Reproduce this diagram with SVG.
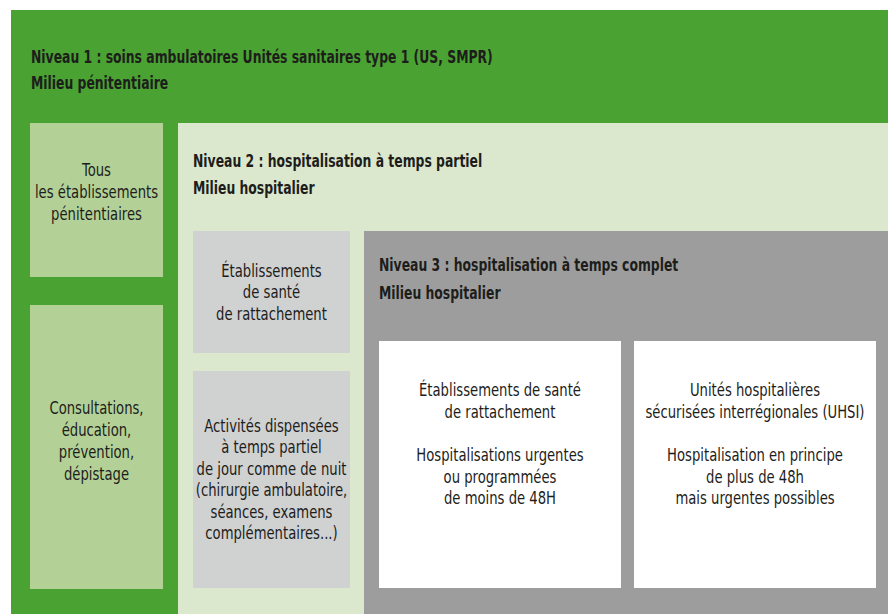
<svg xmlns="http://www.w3.org/2000/svg" width="888" height="614" viewBox="0 0 888 614">
<style>
text{font-family:"DejaVu Sans Condensed","Liberation Sans Narrow","Liberation Sans",sans-serif;font-stretch:condensed;fill:#1d1d1b}
.h{font-size:17px;font-weight:bold}
.b{font-size:18px;text-anchor:middle}
</style>
<rect width="888" height="614" fill="#ffffff"/>
<g id="niveau1">
<rect x="11" y="10" width="877" height="604" fill="#4aa232"/>
<g transform="translate(31 0) scale(0.81 1)">
<text class="h" x="0" y="63">Niveau 1 : soins ambulatoires Unités sanitaires type 1 (US, SMPR)</text>
<text class="h" x="0" y="89">Milieu pénitentiaire</text>
</g>
</g>
<g id="tous-etablissements">
<rect x="30" y="123" width="133" height="154" fill="#b3d197"/>
<g transform="translate(96.5 0) scale(0.815 1)">
<text class="b" x="0" y="176">Tous</text>
<text class="b" x="0" y="198">les établissements</text>
<text class="b" x="0" y="220">pénitentiaires</text>
</g>
</g>
<g id="consultations">
<rect x="30" y="305" width="133" height="284" fill="#b3d197"/>
<g transform="translate(96.5 0) scale(0.815 1)">
<text class="b" x="0" y="414">Consultations,</text>
<text class="b" x="0" y="436">éducation,</text>
<text class="b" x="0" y="458">prévention,</text>
<text class="b" x="0" y="480">dépistage</text>
</g>
</g>
<g id="niveau2">
<rect x="178" y="123" width="710" height="491" fill="#dce8cd"/>
<g transform="translate(193 0) scale(0.81 1)">
<text class="h" x="0" y="167">Niveau 2 : hospitalisation à temps partiel</text>
<text class="h" x="0" y="194">Milieu hospitalier</text>
</g>
</g>
<g id="etablissements-rattachement">
<rect x="193" y="231" width="157" height="122" fill="#d0d1d1"/>
<g transform="translate(271.5 0) scale(0.815 1)">
<text class="b" x="0" y="277">Établissements</text>
<text class="b" x="0" y="298.5">de santé</text>
<text class="b" x="0" y="320">de rattachement</text>
</g>
</g>
<g id="activites">
<rect x="193" y="371" width="157" height="217" fill="#d0d1d1"/>
<g transform="translate(271.5 0) scale(0.815 1)">
<text class="b" x="0" y="432">Activités dispensées</text>
<text class="b" x="0" y="453.5">à temps partiel</text>
<text class="b" x="0" y="475">de jour comme de nuit</text>
<text class="b" x="0" y="496.5">(chirurgie ambulatoire,</text>
<text class="b" x="0" y="518">séances, examens</text>
<text class="b" x="0" y="539.5">complémentaires...)</text>
</g>
</g>
<g id="niveau3">
<rect x="364" y="231" width="524" height="383" fill="#9d9d9d"/>
<g transform="translate(379 0) scale(0.81 1)">
<text class="h" x="0" y="271">Niveau 3 : hospitalisation à temps complet</text>
<text class="h" x="0" y="299">Milieu hospitalier</text>
</g>
</g>
<g id="etablissements-sante">
<rect x="379" y="341" width="242" height="247" fill="#ffffff"/>
<g transform="translate(500 0) scale(0.815 1)">
<text class="b" x="0" y="396.5">Établissements de santé</text>
<text class="b" x="0" y="418">de rattachement</text>
<text class="b" x="0" y="461.5">Hospitalisations urgentes</text>
<text class="b" x="0" y="483">ou programmées</text>
<text class="b" x="0" y="504.5">de moins de 48H</text>
</g>
</g>
<g id="uhsi">
<rect x="634" y="341" width="242" height="247" fill="#ffffff"/>
<g transform="translate(755 0) scale(0.815 1)">
<text class="b" x="0" y="396.5">Unités hospitalières</text>
<text class="b" x="0" y="418">sécurisées interrégionales (UHSI)</text>
<text class="b" x="0" y="461.5">Hospitalisation en principe</text>
<text class="b" x="0" y="483">de plus de 48h</text>
<text class="b" x="0" y="504.5">mais urgentes possibles</text>
</g>
</g>
<g id="connectors"/>
</svg>
